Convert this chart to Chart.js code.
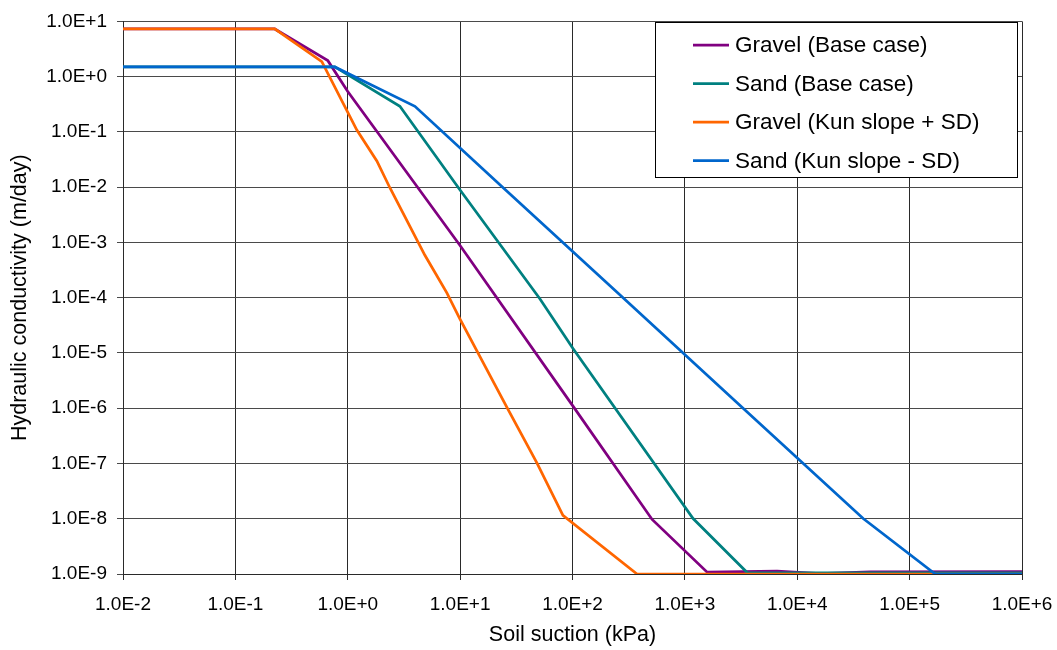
<!DOCTYPE html>
<html>
<head>
<meta charset="utf-8">
<script src="https://cdn.jsdelivr.net/npm/chart.js@4.4.0/dist/chart.umd.min.js"></script>
<style>
    body { margin: 0; background: #fff; }
    #wrap { width: 1057px; height: 650px; }
</style>
</head>
<body>
<div id="wrap"><canvas id="chart-k" width="1057" height="650"></canvas></div>
<script>
// Soil suction (kPa) / hydraulic conductivity (m/day)
const gravelBaseSuction = [0.01, 0.224, 0.665, 1.0, 9.95, 101, 511, 1578, 6620, 16000, 44500, 1e6];
const gravelBaseK = [7.3, 7.3, 1.95, 0.54, 8.9e-4, 1.09e-6, 9.7e-9, 1.08e-9, 1.13e-9, 1.02e-9, 1.09e-9, 1.1e-9];

const sandBaseSuction = [0.01, 0.767, 2.91, 9.95, 51.4, 101, 1183, 3600, 1e6];
const sandBaseK = [1.5, 1.5, 0.291, 9.0e-3, 9.5e-5, 1.2e-5, 1.01e-8, 1.05e-9, 1.05e-9];

const gravelKunSuction = [0.01, 0.224, 0.588, 1.205, 1.815, 2.37, 4.86, 7.62, 9.95, 26.6, 48.2, 82.2, 375, 1e6];
const gravelKunK = [7.3, 7.3, 1.87, 0.108, 0.0299, 0.00977, 5.86e-4, 1.22e-4, 4.15e-5, 9.6e-7, 1.03e-7, 1.15e-8, 1e-9, 1e-9];

const sandKunSuction = [0.01, 0.767, 3.96, 22.6, 265, 3296, 38600, 169000, 1e6];
const sandKunK = [1.5, 1.5, 0.291, 0.0111, 1.12e-4, 1.0e-6, 1.01e-8, 1e-9, 1e-9];

const seriesLabels = [
    'Gravel (Base case)',
    'Sand (Base case)',
    'Gravel (Kun slope + SD)',
    'Sand (Kun slope - SD)'
];

const xTicks = [1e-2, 1e-1, 1e0, 1e1, 1e2, 1e3, 1e4, 1e5, 1e6];
const yTicks = [1e-9, 1e-8, 1e-7, 1e-6, 1e-5, 1e-4, 1e-3, 1e-2, 1e-1, 1e0, 1e1];

const purple = '#800080';
const teal = '#008080';
const orange = '#ff6600';
const blue = '#0066cc';
const gridColorV = '#2a2a2a';
const gridColorH = '#4a4a4a';
const fontName = '"Liberation Sans", Arial, sans-serif';

function toPoints(xs, ys) {
    return xs.map((x, i) => ({ x: x, y: ys[i] }));
}

function makeSet(label, xs, ys, color, order) {
    return {
        label: label,
        data: toPoints(xs, ys),
        borderColor: color,
        backgroundColor: color,
        borderWidth: 2.75,
        pointRadius: 0,
        tension: 0,
        fill: false,
        order: order
    };
}

function sciLabel(v) {
    return Number(v).toExponential(1).toUpperCase();
}

// legend drawn inside the plot, top right, like the original
const legendBox = {
    id: 'legendBox',
    afterDraw(chart) {
        const ctx = chart.ctx;
        const sets = chart.data.datasets;
        ctx.save();
        ctx.fillStyle = '#fff';
        ctx.fillRect(655.5, 22.5, 362, 155);
        ctx.strokeStyle = '#000';
        ctx.lineWidth = 1;
        ctx.strokeRect(655.5, 22.5, 362, 155);
        ctx.font = '22.5px ' + fontName;
        ctx.textBaseline = 'middle';
        ctx.fillStyle = '#000';
        for (let i = 0; i < sets.length; i++) {
            const yy = 45 + i * 38.5;
            ctx.strokeStyle = sets[i].borderColor;
            ctx.lineWidth = 2.75;
            ctx.beginPath();
            ctx.moveTo(693, yy);
            ctx.lineTo(729, yy);
            ctx.stroke();
            ctx.fillText(sets[i].label, 735, yy + 1);
        }
        ctx.restore();
    }
};

const ctxK = document.getElementById('chart-k').getContext('2d');

new Chart(ctxK, {
    type: 'line',
    data: {
        datasets: [
            makeSet(seriesLabels[0], gravelBaseSuction, gravelBaseK, purple, 3),
            makeSet(seriesLabels[1], sandBaseSuction, sandBaseK, teal, 2),
            makeSet(seriesLabels[2], gravelKunSuction, gravelKunK, orange, 1),
            makeSet(seriesLabels[3], sandKunSuction, sandKunK, blue, 0)
        ]
    },
    options: {
        responsive: false,
        animation: false,
        layout: { padding: { top: 17, right: 35, left: 0, bottom: 0 } },
        plugins: {
            legend: { display: false },
            tooltip: { enabled: false }
        },
        scales: {
            x: {
                type: 'logarithmic',
                min: 1e-2,
                max: 1e6,
                afterBuildTicks: function (scale) {
                    scale.ticks = xTicks.map(v => ({ value: v }));
                },
                afterFit: function (scale) {
                    scale.height = 76;
                    // let the layout padding decide the right edge
                    scale.paddingLeft = 0;
                    scale.paddingRight = 0;
                },
                grid: { color: gridColorV, lineWidth: 1, tickLength: 6 },
                border: { color: gridColorV, width: 1 },
                ticks: {
                    color: '#000',
                    padding: 13,
                    maxRotation: 0,
                    autoSkip: false,
                    font: { family: fontName, size: 19 },
                    callback: function (v) { return sciLabel(v); }
                },
                title: {
                    display: true,
                    text: 'Soil suction (kPa)',
                    color: '#000',
                    padding: { top: 0, bottom: 2 },
                    font: { family: fontName, size: 21.5 }
                }
            },
            y: {
                type: 'logarithmic',
                min: 1e-9,
                max: 1e1,
                afterBuildTicks: function (scale) {
                    scale.ticks = yTicks.map(v => ({ value: v }));
                },
                afterFit: function (scale) {
                    scale.width = 123;
                },
                grid: { color: gridColorH, lineWidth: 1, tickLength: 6 },
                border: { color: gridColorV, width: 1 },
                ticks: {
                    color: '#000',
                    padding: 10,
                    autoSkip: false,
                    font: { family: fontName, size: 19 },
                    callback: function (v) { return sciLabel(v); }
                },
                title: {
                    display: true,
                    text: 'Hydraulic conductivity (m/day)',
                    color: '#000',
                    padding: { top: 7, bottom: 0 },
                    font: { family: fontName, size: 21.5 }
                }
            }
        }
    },
    plugins: [legendBox]
});
</script>
</body>
</html>
